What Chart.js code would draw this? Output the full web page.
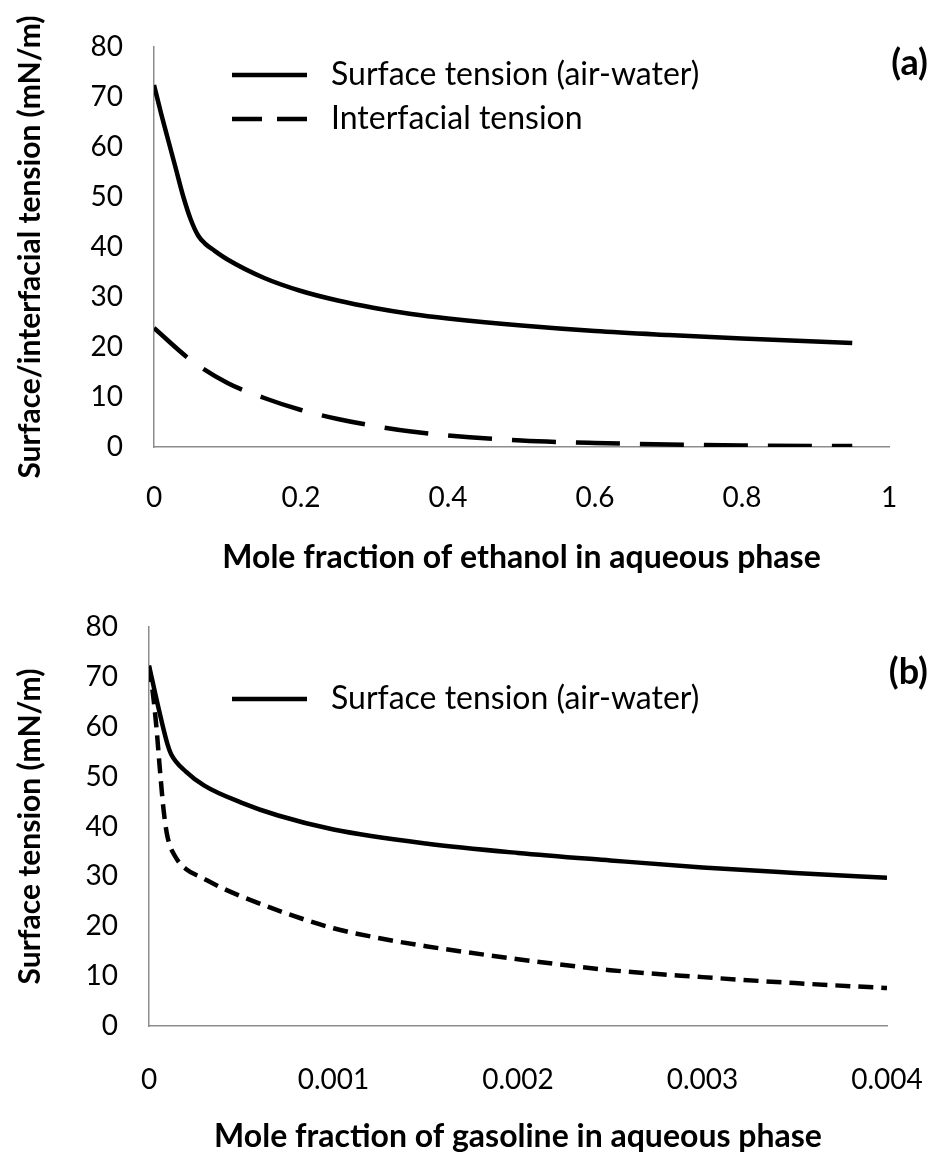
<!DOCTYPE html>
<html>
<head>
<meta charset="utf-8">
<script src="https://cdn.jsdelivr.net/npm/chart.js@4.4.0/dist/chart.umd.min.js"></script>
<style>
  body { margin: 0; background: #fff; }
  canvas { display: block; }
</style>
</head>
<body>
<canvas id="chartA" width="938" height="590"></canvas>
<canvas id="chartB" width="938" height="567"></canvas>
<script>
// ---- panel (a): ethanol ----
var ethanolX      = [0, 0.01, 0.02, 0.03, 0.04, 0.05, 0.06, 0.07, 0.08, 0.1, 0.15, 0.2, 0.25, 0.3, 0.35, 0.4, 0.5, 0.6, 0.7, 0.8, 0.9, 0.95];
var surfaceA      = [72.4, 66.5, 61, 55.5, 50, 45.5, 42.3, 40.6, 39.5, 37.5, 33.8, 31.2, 29.3, 27.8, 26.6, 25.7, 24.3, 23.2, 22.4, 21.7, 21.1, 20.8];
var interfacialX  = [0, 0.05, 0.1, 0.15, 0.2, 0.25, 0.3, 0.35, 0.4, 0.5, 0.6, 0.7, 0.8, 0.9, 0.95];
var interfacialA  = [23.8, 17.4, 12.8, 9.8, 7.4, 5.6, 4.2, 3.1, 2.3, 1.3, 0.8, 0.5, 0.3, 0.2, 0.2];
var xTicksA       = [0, 0.2, 0.4, 0.6, 0.8, 1];
var xTickLabelsA  = ['0', '0.2', '0.4', '0.6', '0.8', '1'];

// ---- panel (b): gasoline ----
var gasolineX     = [0, 0.00005, 0.0001, 0.00012, 0.0002, 0.0003, 0.0005, 0.0007, 0.001, 0.0015, 0.002, 0.0025, 0.003, 0.0035, 0.004];
var surfaceB      = [72.3, 64, 56.5, 54.5, 51, 48.2, 44.8, 42.2, 39.4, 36.6, 34.7, 33.2, 31.8, 30.7, 29.7];
var gasolineX2    = [0, 0.00002, 0.00004, 0.00006, 0.00008, 0.0001, 0.00015, 0.0002, 0.0003, 0.0004, 0.0005, 0.00075, 0.001, 0.00125, 0.0015, 0.002, 0.0025, 0.003, 0.0035, 0.004];
var dashedB       = [72, 67, 60, 51, 43, 38, 33.5, 31.5, 29.5, 27.6, 26, 22.5, 19.6, 17.6, 16, 13.4, 11.2, 9.8, 8.6, 7.6];
var xTicksB       = [0, 0.001, 0.002, 0.003, 0.004];
var xTickLabelsB  = ['0', '0.001', '0.002', '0.003', '0.004'];

var yTicks = [0, 10, 20, 30, 40, 50, 60, 70, 80];

Chart.defaults.font.family = 'Lato, "Open Sans", sans-serif';
Chart.defaults.color = '#000';

function pts(xs, ys) {
  return xs.map(function (x, i) { return { x: x, y: ys[i] }; });
}

// draws the in-plot legend and the panel tag
var annotate = {
  id: 'annotate',
  afterDraw: function (chart, args, opts) {
    var ctx = chart.ctx;
    ctx.save();
    opts.items.forEach(function (it) {
      var ds = chart.data.datasets[it.dataset];
      ctx.strokeStyle = ds.borderColor;
      ctx.lineWidth = ds.borderWidth;
      ctx.lineCap = 'butt';
      ctx.setLineDash(it.dash || []);
      ctx.beginPath();
      ctx.moveTo(it.x, it.y);
      ctx.lineTo(it.x + 75, it.y);
      ctx.stroke();
      ctx.setLineDash([]);
      ctx.fillStyle = '#000';
      ctx.font = '32px Lato';
      ctx.textBaseline = 'middle';
      ctx.textAlign = 'left';
      ctx.fillText(ds.label, it.x + 99, it.y);
    });
    ctx.font = 'bold 36px Lato';
    ctx.textAlign = 'right';
    ctx.textBaseline = 'middle';
    ctx.fillText(opts.tag, opts.tagX, opts.tagY);
    ctx.restore();
  }
};

function makeChart(id, cfg) {
  return new Chart(document.getElementById(id), {
    type: 'line',
    data: { datasets: cfg.datasets },
    plugins: [annotate],
    options: {
      responsive: false,
      animation: false,
      layout: { padding: { top: cfg.padTop, right: cfg.padRight, left: 0, bottom: 0 } },
      elements: { point: { radius: 0 }, line: { cubicInterpolationMode: 'monotone' } },
      plugins: {
        legend: { display: false },
        tooltip: { enabled: false },
        annotate: cfg.annotate
      },
      scales: {
        x: {
          type: 'linear',
          min: cfg.xTicks[0],
          max: cfg.xTicks[cfg.xTicks.length - 1],
          grid: { display: false, drawTicks: false },
          border: { color: '#8c8c8c', width: 1.5 },
          afterBuildTicks: function (s) { s.ticks = cfg.xTicks.map(function (v) { return { value: v }; }); },
          afterFit: function (s) { s.height = cfg.xHeight; s.paddingLeft = 0; s.paddingRight = 0; },
          ticks: {
            padding: cfg.xTickPad,
            maxRotation: 0,
            font: { size: 28 },
            callback: function (v, i) { return cfg.xLabels[i]; }
          },
          title: {
            display: true,
            text: cfg.xTitle,
            font: { size: 32, weight: 'bold' },
            padding: { top: 0, bottom: cfg.xTitlePad }
          }
        },
        y: {
          min: 0,
          max: 80,
          grid: { display: false, drawTicks: false },
          border: { color: '#8c8c8c', width: 1.5 },
          afterBuildTicks: function (s) { s.ticks = yTicks.map(function (v) { return { value: v }; }); },
          afterFit: function (s) { s.width = cfg.yWidth; s.paddingTop = 0; s.paddingBottom = 0; },
          ticks: { padding: 31, font: { size: 28 } },
          title: {
            display: true,
            text: cfg.yTitle,
            font: { size: 30, weight: 'bold' },
            padding: { top: 12, bottom: 0 }
          }
        }
      }
    }
  });
}

makeChart('chartA', {
  datasets: [
    { label: 'Surface tension (air-water)', data: pts(ethanolX, surfaceA), borderColor: '#000', borderWidth: 4.5 },
    { label: 'Interfacial tension', data: pts(interfacialX, interfacialA), borderColor: '#000', borderWidth: 4.5, borderDash: [44, 20] }
  ],
  padTop: 47, padRight: 49, yWidth: 154, xHeight: 143, xTickPad: 34, xTitlePad: 13,
  xTicks: xTicksA, xLabels: xTickLabelsA,
  xTitle: 'Mole fraction of ethanol in aqueous phase',
  yTitle: 'Surface/interfacial tension (mN/m)',
  annotate: {
    items: [
      { dataset: 0, x: 232, y: 75 },
      { dataset: 1, x: 232, y: 119, dash: [30, 15] }
    ],
    tag: '(a)', tagX: 928, tagY: 63
  }
});

makeChart('chartB', {
  datasets: [
    { label: 'Surface tension (air-water)', data: pts(gasolineX, surfaceB), borderColor: '#000', borderWidth: 4.5 },
    { label: '', data: pts(gasolineX2, dashedB), borderColor: '#000', borderWidth: 4.5, borderDash: [15, 8] }
  ],
  padTop: 37, padRight: 51, yWidth: 149, xHeight: 131, xTickPad: 37, xTitlePad: 1,
  xTicks: xTicksB, xLabels: xTickLabelsB,
  xTitle: 'Mole fraction of gasoline in aqueous phase',
  yTitle: 'Surface tension (mN/m)',
  annotate: {
    items: [
      { dataset: 0, x: 232, y: 109 }
    ],
    tag: '(b)', tagX: 928, tagY: 82
  }
});
</script>
</body>
</html>
